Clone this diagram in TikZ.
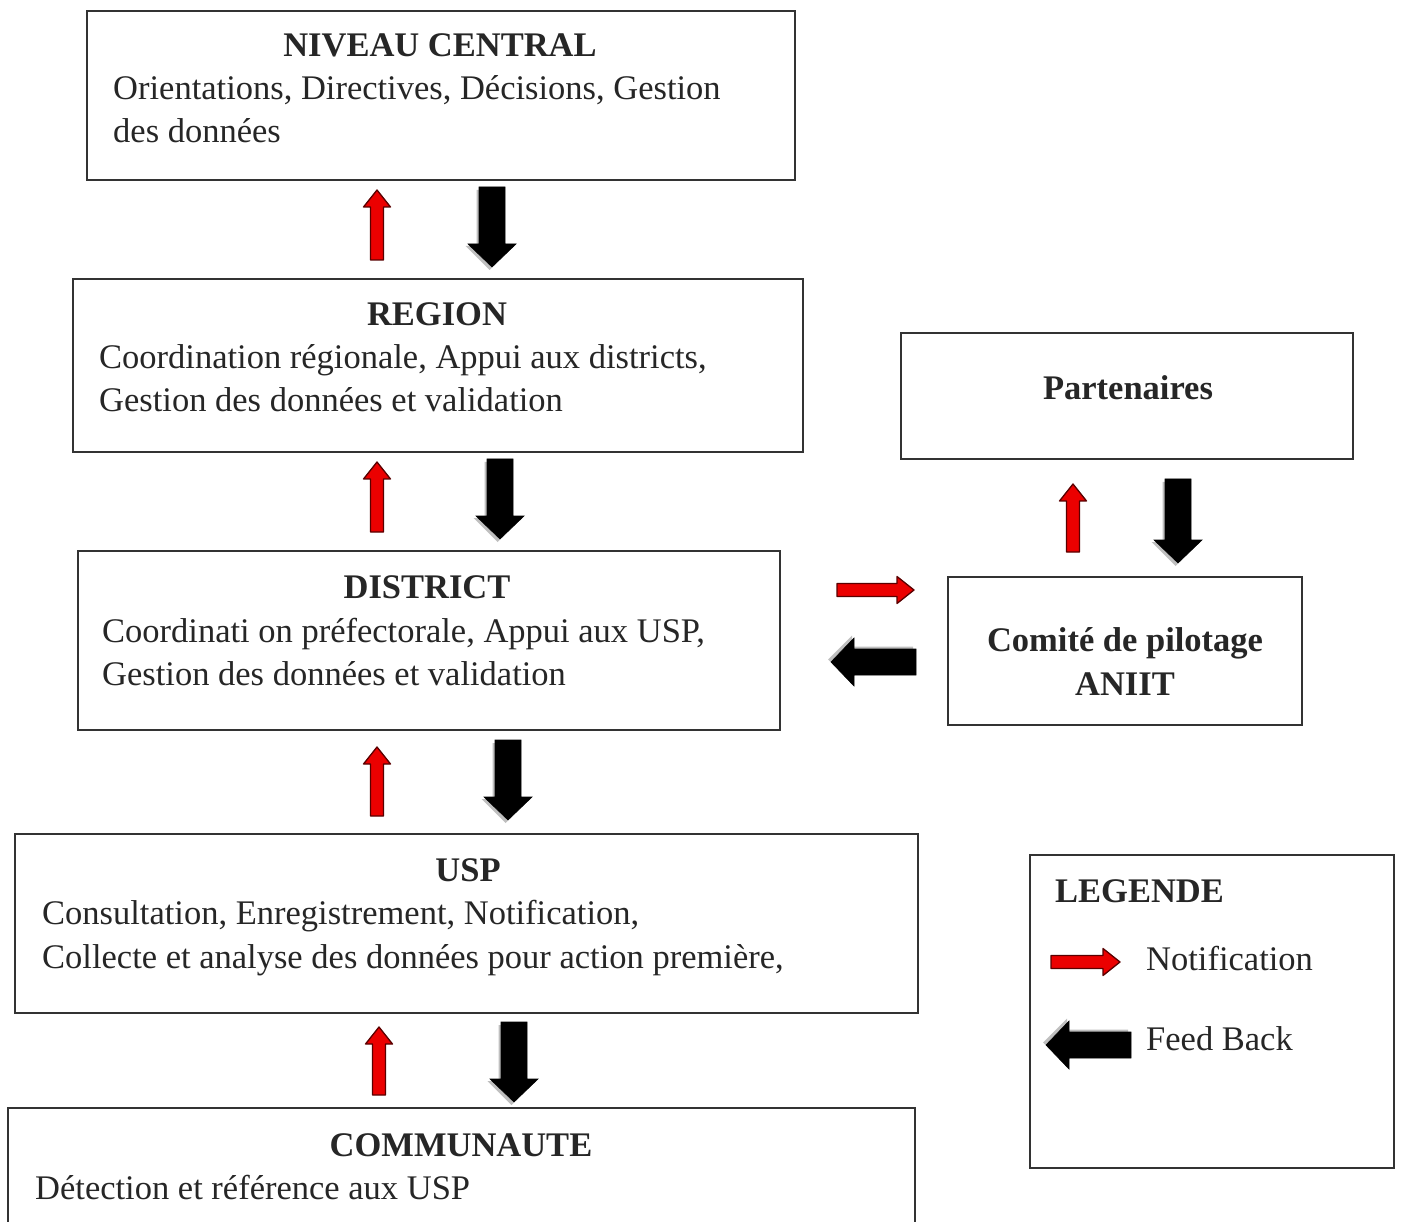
\documentclass[tikz,border=0pt]{standalone}
\usepackage{fontspec}
\setmainfont{Liberation Serif}
\begin{document}
\begin{tikzpicture}[x=1pt,y=1pt,
  box/.style={draw=black!80, line width=1.6pt, fill=white, inner sep=0pt},
  txt/.style={anchor=base west, inner sep=0pt, font=\fontsize{34.5}{43}\selectfont, text=black!85},
  ttl/.style={anchor=base, inner sep=0pt, font=\fontsize{34.5}{43}\selectfont\bfseries, text=black!85},
  redfill/.style={fill=red!92!black, draw=red!35!black, line width=1.3pt, line join=round},
  blackfill/.style={fill=black, draw=black, line width=0.6pt},
  shadowfill/.style={fill=black!25, draw=none},
  pics/redarr/.style={code={
    \path[redfill] (0,-6.5) -- (#1-17,-6.5) -- (#1-17,-13.5) -- (#1,0) -- (#1-17,13.5) -- (#1-17,6.5) -- (0,6.5) -- cycle;}},
  pics/blackarr/.style={code={
    \path[shadowfill] (3,-15.5) -- (#1-21,-15.5) -- (#1-21,-26.5) -- (#1+3,-2.5) -- (#1-21,21.5) -- (#1-21,10.5) -- (3,10.5) -- cycle;
    \path[blackfill] (0,-13) -- (#1-23,-13) -- (#1-23,-24) -- (#1,0) -- (#1-23,24) -- (#1-23,13) -- (0,13) -- cycle;}}
]
\useasboundingbox (0,0) rectangle (1401,-1222);
\fill[white] (0,0) rectangle (1401,-1222);

% boxes
\node[box, minimum width=708, minimum height=169] (central) at (441,-95.5) {};
\node[box, minimum width=730, minimum height=173] (region) at (438,-365.5) {};
\node[box, minimum width=452, minimum height=126] (partenaires) at (1127,-396) {};
\node[box, minimum width=702, minimum height=179] (district) at (429,-640.5) {};
\node[box, minimum width=354, minimum height=148] (comite) at (1125,-651) {};
\node[box, minimum width=903, minimum height=179] (usp) at (466.5,-923.5) {};
\node[box, minimum width=364, minimum height=313] (legende) at (1212,-1011.5) {};
\coordinate (commtl) at (8,-1108);
\coordinate (commtr) at (915,-1108);
\draw[draw=black!80, line width=1.6pt] (commtl |- 0,-1230) -- (commtl) -- (commtr) -- (commtr |- 0,-1230);

% texts
\node[ttl] (t1) at (440,-57) {NIVEAU CENTRAL};
\node[txt] (t1a) at (113,-100) {Orientations, Directives, Décisions, Gestion};
\node[txt] (t1b) at (113,-143) {des données};

\node[ttl] (t2) at (437,-326) {REGION};
\node[txt] (t2a) at (99,-369) {Coordination régionale, Appui aux districts,};
\node[txt] (t2b) at (99,-412) {Gestion des données et validation};

\node[ttl] (t3) at (1128,-400) {Partenaires};

\node[ttl] (t4) at (427,-598) {DISTRICT};
\node[txt] (t4a) at (102,-642) {Coordinati on préfectorale, Appui aux USP,};
\node[txt] (t4b) at (102,-685) {Gestion des données et validation};

\node[ttl] (t5) at (1125,-651) {Comité de pilotage};
\node[ttl] (t5b) at (1125,-695) {ANIIT};

\node[ttl] (t6) at (468,-881) {USP};
\node[txt] (t6a) at (42,-924) {Consultation, Enregistrement, Notification,};
\node[txt] (t6b) at (42,-968) {Collecte et analyse des données pour action première,};

\node[ttl] (t7) at (461,-1156) {COMMUNAUTE};
\node[txt] (t7a) at (35,-1199) {Détection et référence aux USP};

\node[ttl, anchor=base west] (t8) at (1055,-902) {LEGENDE};
\node[txt] (t8a) at (1146,-970) {Notification};
\node[txt] (t8b) at (1146,-1050) {Feed Back};

% vertical arrows: red up, black down
\pic[rotate=90] at (377,-260) {redarr=70};
\pic[rotate=-90] at (492,-187) {blackarr=80};
\pic[rotate=90] at (377,-532) {redarr=70};
\pic[rotate=-90] at (500,-459) {blackarr=80};
\pic[rotate=90] at (377,-816) {redarr=69};
\pic[rotate=-90] at (508,-740) {blackarr=80};
\pic[rotate=90] at (379,-1095) {redarr=68};
\pic[rotate=-90] at (514,-1022) {blackarr=80};
\pic[rotate=90] at (1073,-552) {redarr=68};
\pic[rotate=-90] at (1178,-479) {blackarr=84};

% horizontal arrows
\pic at (837,-590) {redarr=77};
\pic[rotate=180] at (916,-662) {blackarr=85};

% legend arrows
\pic at (1051,-962) {redarr=69};
\pic[rotate=180] at (1131,-1045) {blackarr=85};
\end{tikzpicture}
\end{document}
